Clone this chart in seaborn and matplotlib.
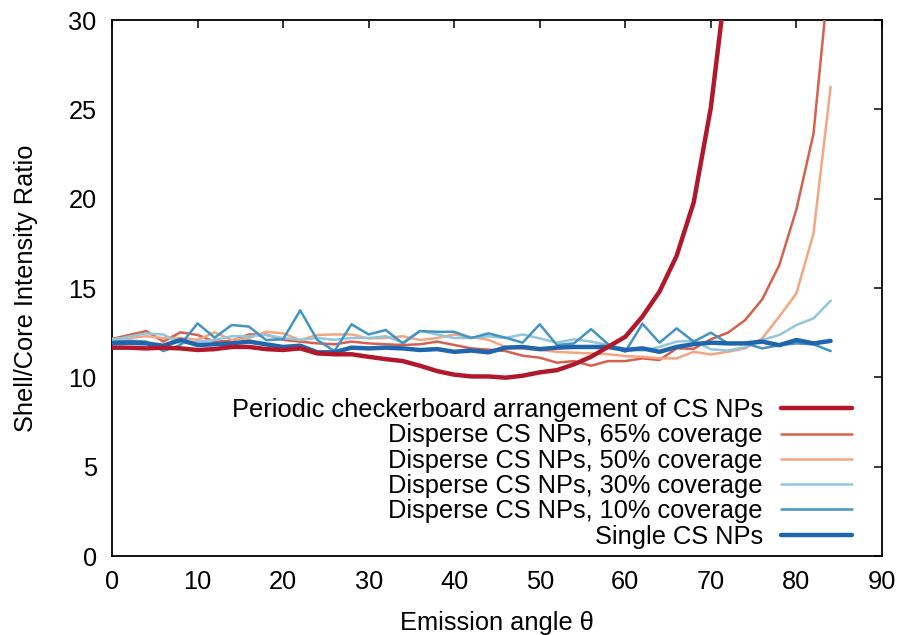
import matplotlib
matplotlib.use("Agg")
import matplotlib.pyplot as plt
import seaborn as sns
import pandas as pd

angles = [0, 2, 4, 6, 8, 10, 12, 14, 16, 18, 20, 22, 24, 26, 28, 30, 32, 34, 36, 38, 40,
          42, 44, 46, 48, 50, 52, 54, 56, 58, 60, 62, 64, 66, 68, 70, 72, 74, 76, 78, 80, 82, 84]

periodic = [11.66, 11.66, 11.62, 11.66, 11.62, 11.53, 11.58, 11.70, 11.70, 11.58, 11.53,
            11.62, 11.34, 11.29, 11.29, 11.15, 11.02, 10.91, 10.65, 10.35, 10.15,
            10.05, 10.05, 9.98, 10.09, 10.28, 10.40, 10.73, 11.15, 11.71, 12.27,
            13.40, 14.80, 16.80, 19.80, 25.10, 33.0]
cov65 = [12.15, 12.37, 12.59, 12.00, 12.52, 12.37, 12.00, 12.05, 12.40, 12.40, 12.10,
         12.00, 11.90, 11.85, 12.00, 11.90, 11.85, 11.81, 11.85, 12.00, 11.81,
         11.62, 11.55, 11.47, 11.21, 11.10, 10.82, 10.91, 10.65, 10.91, 10.91,
         11.06, 10.97, 11.62, 11.60, 12.13, 12.50, 13.20, 14.36, 16.28, 19.40, 23.65, 33.4]
cov50 = [12.15, 12.20, 12.30, 12.20, 12.20, 12.10, 12.52, 12.09, 12.20, 12.55, 12.46,
         12.09, 12.37, 12.40, 12.40, 12.18, 12.20, 12.30, 12.09, 12.20, 12.40,
         12.25, 12.10, 11.70, 11.60, 11.53, 11.43, 11.38, 11.34, 11.29, 11.19,
         11.15, 11.06, 11.06, 11.43, 11.28, 11.43, 11.62, 12.18, 13.40, 14.70, 18.06, 26.26]
cov30 = [12.09, 12.28, 12.46, 12.40, 11.90, 12.00, 12.09, 12.30, 12.30, 12.37, 12.20,
         12.10, 12.20, 12.10, 12.20, 12.20, 12.30, 11.95, 12.60, 12.40, 12.20,
         12.20, 12.30, 12.20, 12.40, 12.18, 11.94, 12.13, 12.00, 11.81, 11.60,
         11.50, 11.70, 12.00, 12.05, 11.57, 11.50, 11.68, 12.10, 12.37, 12.93, 13.30, 14.29]
cov10 = [12.00, 12.05, 12.00, 11.47, 11.81, 13.02, 12.22, 12.93, 12.84, 12.09, 12.13,
         13.75, 12.09, 11.47, 12.97, 12.40, 12.65, 11.90, 12.59, 12.55, 12.55,
         12.20, 12.46, 12.22, 11.94, 12.97, 11.81, 11.90, 12.70, 11.85, 11.43,
         13.00, 11.94, 12.74, 12.00, 12.50, 11.90, 11.90, 11.62, 11.80, 11.90, 11.85, 11.47]
single = [11.90, 11.94, 11.90, 11.77, 12.09, 11.81, 11.85, 11.90, 12.00, 11.85, 11.70,
          11.77, 11.40, 11.40, 11.66, 11.62, 11.66, 11.62, 11.53, 11.58, 11.43,
          11.50, 11.40, 11.66, 11.70, 11.58, 11.66, 11.70, 11.70, 11.70, 11.53,
          11.62, 11.43, 11.70, 11.86, 11.94, 11.90, 11.90, 12.00, 11.80, 12.09, 11.90, 12.04]

labels = ["Periodic checkerboard arrangement of CS NPs",
          "Disperse CS NPs, 65% coverage",
          "Disperse CS NPs, 50% coverage",
          "Disperse CS NPs, 30% coverage",
          "Disperse CS NPs, 10% coverage",
          "Single CS NPs"]
colors = ["#b2182b", "#d6604d", "#f4a582", "#92c5de", "#4393c3", "#2166ac"]
series = [periodic, cov65, cov50, cov30, cov10, single]
widths = [3.2, 1.8, 1.8, 1.8, 1.8, 3.2]
zorders = [8, 3, 3, 3, 3, 6]

xticks = [0, 10, 20, 30, 40, 50, 60, 70, 80, 90]
yticks = [0, 5, 10, 15, 20, 25, 30]

FS = 18.3
sns.set_style("white")
plt.rcParams["font.family"] = ["Liberation Sans", "DejaVu Sans"]
plt.rcParams["font.size"] = FS
plt.rcParams["text.color"] = "black"
plt.rcParams["axes.labelcolor"] = "black"
plt.rcParams["xtick.color"] = "black"
plt.rcParams["ytick.color"] = "black"

fig = plt.figure(figsize=(9.03, 6.35), dpi=100)
ax = fig.add_axes([0.124, 0.1244, 0.8527, 0.8441])

for lab, col, vals, lw, zo in zip(labels, colors, series, widths, zorders):
    df = pd.DataFrame({"angle": angles[:len(vals)], "ratio": vals})
    sns.lineplot(data=df, x="angle", y="ratio", ax=ax, color=col, lw=lw,
                 label=lab, zorder=zo)

ax.set_xlim(0, 90)
ax.set_ylim(0, 30)
ax.set_xticks(xticks)
ax.set_yticks(yticks)
ax.set_xlabel("Emission angle θ", fontsize=FS, labelpad=12)
ax.set_ylabel("Shell/Core Intensity Ratio", fontsize=FS, labelpad=22)
ax.tick_params(axis="both", direction="in", length=6, width=1.1, color="black",
               top=True, right=True, labelsize=FS, labelcolor="black")
ax.tick_params(axis="x", pad=10)
ax.tick_params(axis="y", pad=11)
for s in ax.spines.values():
    s.set_visible(True)
    s.set_linewidth(1.3)
    s.set_color("black")

leg = ax.legend(loc="lower right", bbox_to_anchor=(0.961, 0.014), frameon=False,
                markerfirst=False, fontsize=FS, handlelength=2.8,
                handletextpad=0.7, labelspacing=0.05, borderpad=0, borderaxespad=0)

fig.savefig("out.png", dpi=100)
